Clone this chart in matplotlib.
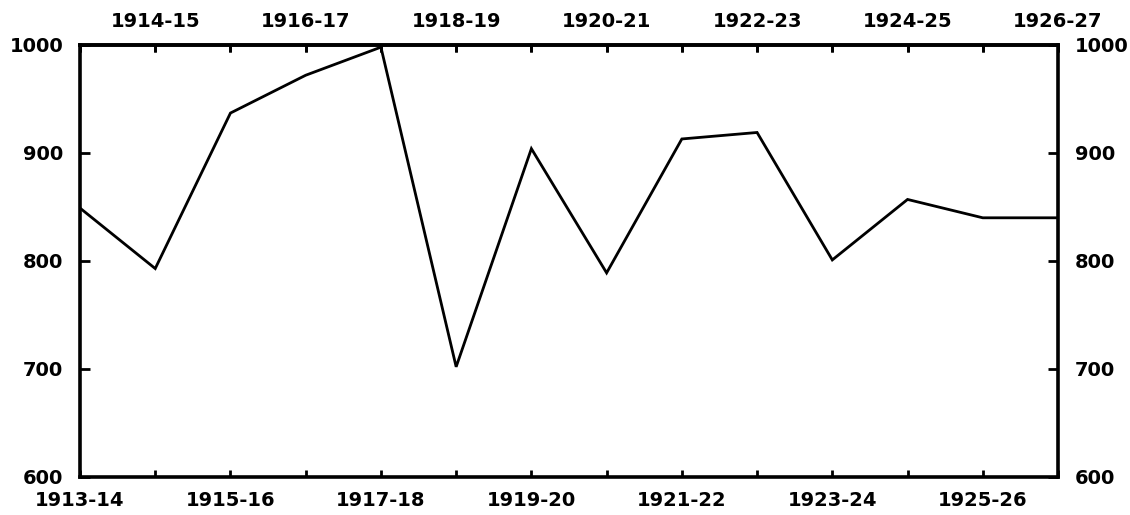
import matplotlib
matplotlib.use("Agg")
import matplotlib.pyplot as plt

years = ["1913-14", "1914-15", "1915-16", "1916-17", "1917-18", "1918-19", "1919-20",
         "1920-21", "1921-22", "1922-23", "1923-24", "1924-25", "1925-26", "1926-27"]
values = [849, 793, 937, 972, 998, 702, 904, 789, 913, 919, 801, 857, 840, 840]
y_ticks = [600, 700, 800, 900, 1000]

bottom_labels = [y if i % 2 == 0 else "" for i, y in enumerate(years)]
top_labels = [y if i % 2 == 1 else "" for i, y in enumerate(years)]

fig = plt.figure(figsize=(11.3, 5.15), dpi=100)
ax = fig.add_axes([80 / 1130, 1 - 477 / 515, (1058 - 80) / 1130, (477 - 45) / 515])

x = list(range(len(years)))
ax.plot(x, values, color="black", linewidth=2.0, solid_joinstyle="miter")

ax.set_xlim(0, len(years) - 1)
ax.set_ylim(600, 1000)

for s in ax.spines.values():
    s.set_linewidth(2.6)
    s.set_color("black")

font = dict(fontsize=14, fontweight="bold", family="DejaVu Sans")

ax.set_xticks(x)
ax.set_xticklabels(bottom_labels, **font)
ax.tick_params(axis="x", direction="in", length=5, width=2, pad=10, bottom=True, top=True)

sec = ax.secondary_xaxis("top")
sec.set_xticks(x)
sec.set_xticklabels(top_labels, **font)
sec.tick_params(axis="x", direction="in", length=5, width=2, pad=10)
sec.spines["top"].set_linewidth(2.6)

ax.set_yticks(y_ticks)
ax.set_yticklabels([str(v) for v in y_ticks], **font)
ax.tick_params(axis="y", direction="in", length=7, width=2, pad=12, left=True, right=True,
               labelleft=True, labelright=True)

fig.savefig("out.png", dpi=100, facecolor="white")
